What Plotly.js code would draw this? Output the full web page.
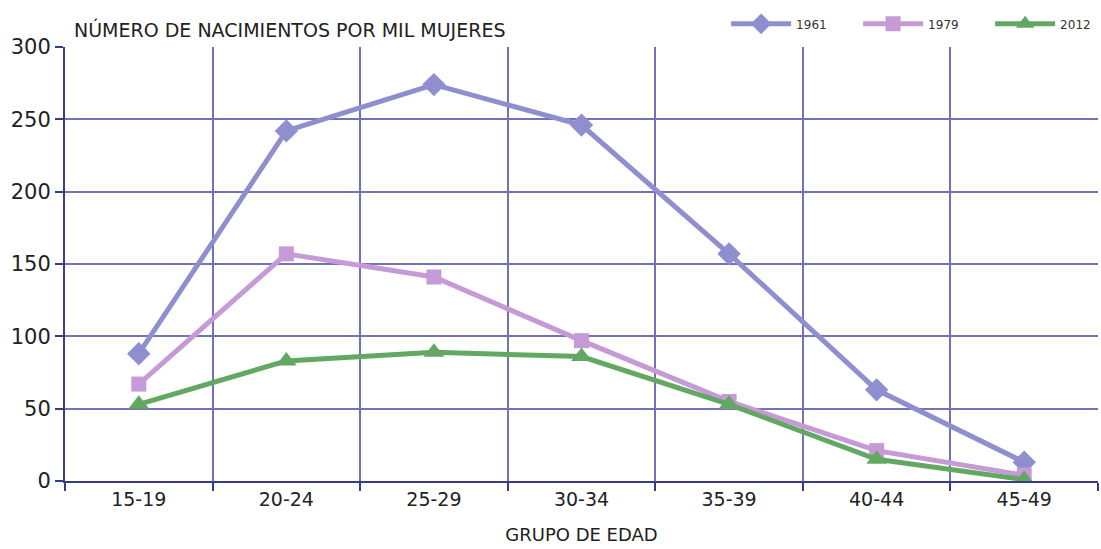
<!DOCTYPE html>
<html><head><meta charset="utf-8">
<script src="https://cdn.plot.ly/plotly-3.0.1.min.js"></script>
<style>html,body{margin:0;padding:0;background:#fff}#chart{width:1101px;height:549px}</style>
</head><body><div id="chart"></div>
<script>
const categories = ["15-19","20-24","25-29","30-34","35-39","40-44","45-49"];
const y1961 = [88, 242, 274, 246, 157, 63, 13];
const y1979 = [67, 157, 141, 97, 55, 21, 4];
const y2012 = [53, 83, 89, 86, 53, 15, 1];
const seriesNames = ["1961","1979","2012"];

const font = "DejaVu Sans, sans-serif";
function tr(name, y, color, symbol, size){
  return {x: categories, y: y, name: name, type: "scatter", mode: "lines+markers",
    line: {color: color, width: 5}, marker: {symbol: symbol, size: size, color: color}};
}
const data = [
  tr(seriesNames[0], y1961, "#8f8fcf", "diamond", 18),
  tr(seriesNames[1], y1979, "#c59ad6", "square", 15),
  tr(seriesNames[2], y2012, "#62a862", "triangle-up", 18)
];
const layout = {
  width: 1101, height: 549,
  margin: {l: 65, r: 3, t: 47, b: 68, autoexpand: false},
  paper_bgcolor: "#fff", plot_bgcolor: "#fff",
  showlegend: true,
  legend: {orientation: "h", x: 0.64, xanchor: "left", y: 1.02, yanchor: "bottom",
    font: {family: font, size: 12, color: "#333"}, itemwidth: 60, entrywidth: 57, traceorder: "normal"},
  xaxis: {type: "category", tickson: "boundaries", showgrid: true, gridcolor: "#7272b8", gridwidth: 1.5,
    showline: true, linecolor: "#3a3a8a", linewidth: 2, ticks: "outside", ticklen: 8, tickcolor: "#3a3a8a", tickwidth: 2,
    tickfont: {family: font, size: 19, color: "#222"}, range: [-0.5, 6.5],
    title: {text: "GRUPO DE EDAD", font: {family: font, size: 18, color: "#222"}, standoff: 20}},
  yaxis: {range: [0, 300], dtick: 50, showgrid: true, gridcolor: "#7272b8", gridwidth: 1.5,
    showline: true, linecolor: "#3a3a8a", linewidth: 2, ticks: "outside", ticklen: 8, tickcolor: "#3a3a8a", tickwidth: 2,
    tickfont: {family: font, size: 21, color: "#222"}, zeroline: false},
  annotations: [{text: "NÚMERO DE NACIMIENTOS POR MIL MUJERES", xref: "paper", yref: "paper", x: 0.007, y: 1.01,
    xanchor: "left", yanchor: "bottom", showarrow: false, font: {family: font, size: 19, color: "#222"}}]
};
Plotly.newPlot("chart", data, layout, {displayModeBar: false});
</script></body></html>
